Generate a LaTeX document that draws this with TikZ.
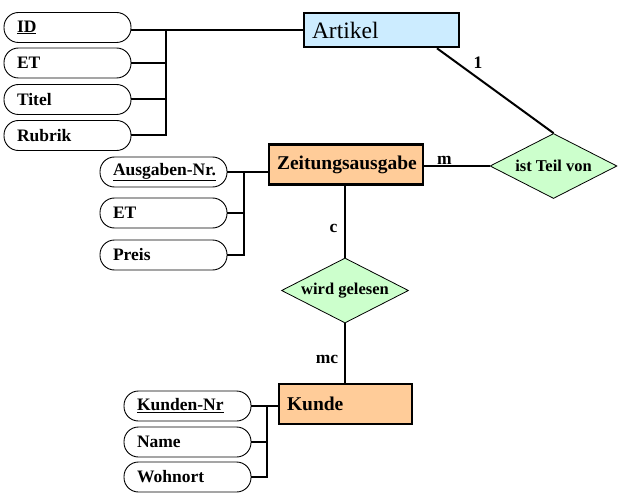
\documentclass[tikz,border=0pt]{standalone}
\usepackage{fontspec}
\setmainfont{Liberation Serif}
\usetikzlibrary{shapes.geometric}
\definecolor{artblue}{HTML}{CCECFF}
\definecolor{entorange}{HTML}{FFCC99}
\definecolor{relgreen}{HTML}{CCFFCC}
\begin{document}
\begin{tikzpicture}[x=1pt,y=-1pt,
  attr/.style={draw, line width=0.9pt, rounded corners=14.5pt, minimum height=30pt,
    inner xsep=13pt, inner ysep=0pt, text width=101pt, align=left,
    font=\fontsize{17.5}{20}\selectfont\bfseries},
  entity/.style={draw, line width=2.6pt, inner xsep=8pt, inner ysep=0pt, align=left},
  rel/.style={diamond, draw, fill=relgreen, line width=0.8pt, aspect=1.95,
    minimum width=127pt, minimum height=65pt, inner sep=0pt,
    font=\fontsize{16.5}{19}\selectfont\bfseries},
  conn/.style={line width=2pt},
  lbl/.style={inner sep=0pt, font=\fontsize{17.5}{20}\selectfont\bfseries}]
\useasboundingbox[fill=white] (0,0) rectangle (623,497);

% Artikel
\node[entity, fill=artblue, text width=139pt, minimum height=34pt,
  font=\fontsize{23.5}{26}\selectfont] (artikel) at (381.5,30) {Artikel};
\node[attr] (idA) at (67.5,27.5) {\underline{ID}};
\node[attr] (etA) at (67.5,63) {ET};
\node[attr] (titel) at (67.5,99.5) {Titel};
\node[attr] (rubrik) at (67.5,135.5) {Rubrik};
\coordinate (busA) at (166,0);

% Zeitungsausgabe
\node[entity, fill=entorange, text width=138pt, minimum height=40pt,
  font=\fontsize{19.5}{22}\selectfont\bfseries] (zeit) at (346,164.5) {Zeitungsausgabe};
\node[attr] (ausnr) at (163.5,172) {\underline{Ausgaben-Nr.}};
\node[attr] (etZ) at (163.5,213) {ET};
\node[attr] (preis) at (163.5,255) {Preis};
\coordinate (busZ) at (244,0);

% Relationships
\node[rel] (teil) at (553.5,166) {ist Teil von};
\node[rel] (wird) at (345,290.5) {wird gelesen};

% Kunde
\node[entity, fill=entorange, text width=117pt, minimum height=40pt,
  font=\fontsize{19.5}{22}\selectfont\bfseries] (kunde) at (345.5,404) {Kunde};
\node[attr] (knr) at (187.5,406) {\underline{Kunden-Nr}};
\node[attr] (name) at (187.5,442) {Name};
\node[attr] (wohnort) at (187.5,477) {Wohnort};
\coordinate (busK) at (267,0);

% Attribute connectors
\draw[conn] (idA.east |- artikel.west) -- (artikel.west);
\draw[conn] (rubrik.east) -| (busA |- artikel.west);
\draw[conn] (etA.east) -- (etA.east -| busA);
\draw[conn] (titel.east) -- (titel.east -| busA);

\draw[conn] (ausnr.east) -- (ausnr.east -| zeit.west);
\draw[conn] (preis.east) -| (busZ |- ausnr.east);
\draw[conn] (etZ.east) -- (etZ.east -| busZ);

\draw[conn] (knr.east) -- (knr.east -| kunde.west);
\draw[conn] (wohnort.east) -| (busK |- knr.east);
\draw[conn] (name.east) -- (name.east -| busK);

% Relationship connectors
\draw[conn] ([xshift=55.5pt]artikel.south) -- (teil.north);
\draw[conn] (zeit.east |- teil.west) -- (teil.west);
\draw[conn] (wird.north |- zeit.south) -- (wird.north);
\draw[conn] (wird.south) -- (wird.south |- kunde.north);

% Cardinalities
\node[lbl] (c1) at (478,63) {1};
\node[lbl] (cm) at (444.5,160) {m};
\node[lbl] (cc) at (333.5,228) {c};
\node[lbl] (cmc) at (327,359) {mc};
\end{tikzpicture}
\end{document}
